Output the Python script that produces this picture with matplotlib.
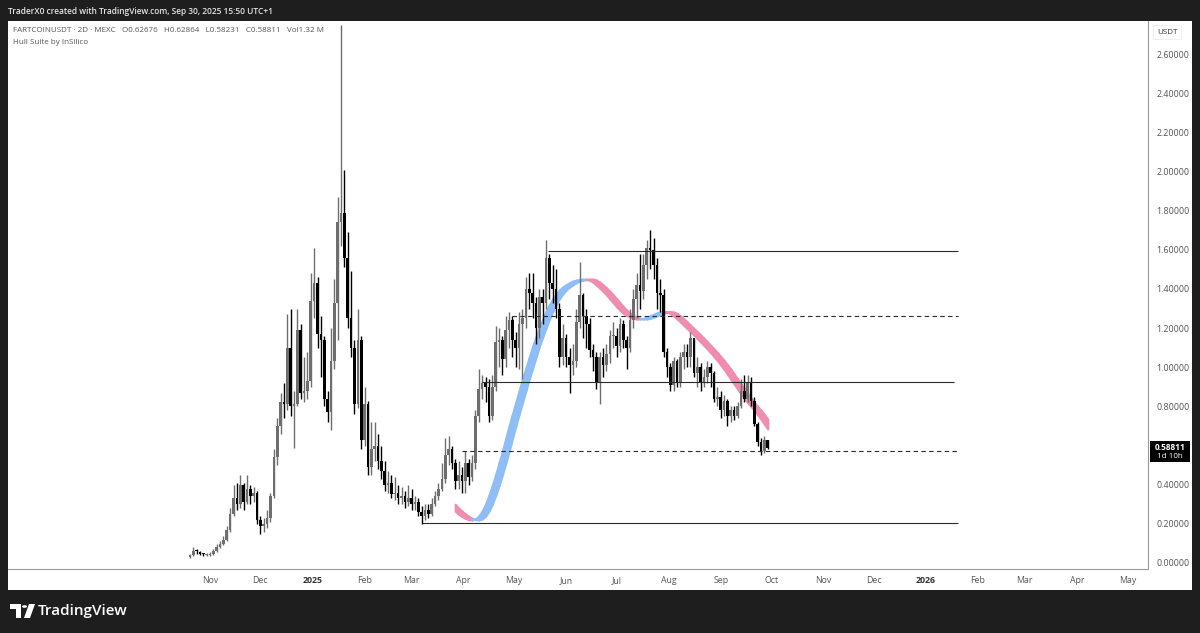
import numpy as np
import pandas as pd
import matplotlib
matplotlib.use("Agg")
import matplotlib.pyplot as plt
import matplotlib.dates as mdates
from matplotlib.patches import Rectangle, Polygon, Circle

plt.rcParams['font.family'] = ['Open Sans', 'DejaVu Sans']

W, H = 1200, 633

# FARTCOINUSDT 2D velas (open = cierre anterior)
first_open = 0.030
close = [0.040, 0.060, 0.055, 0.045, 0.040, 0.042, 0.045, 0.060, 0.080, 0.095,
         0.120, 0.170, 0.250, 0.330, 0.300, 0.400, 0.310, 0.380, 0.340, 0.360,
         0.220, 0.190, 0.200, 0.230, 0.340, 0.540, 0.700, 0.820, 0.810, 1.100,
         0.800, 0.810, 1.190, 0.870, 0.880, 0.930, 1.340, 1.430, 1.170, 1.140,
         0.840, 0.770, 1.030, 1.330, 1.740, 1.790, 1.560, 1.250, 1.100, 0.810,
         1.140, 0.630, 0.810, 0.490, 0.580, 0.600, 0.520, 0.470, 0.400, 0.410,
         0.350, 0.360, 0.330, 0.340, 0.310, 0.330, 0.300, 0.310, 0.260, 0.240,
         0.270, 0.250, 0.300, 0.340, 0.380, 0.430, 0.550, 0.580, 0.510, 0.420,
         0.450, 0.420, 0.510, 0.440, 0.510, 0.750, 0.890, 0.920, 0.900, 0.750,
         0.900, 1.130, 1.140, 1.040, 1.190, 1.240, 1.140, 1.100, 1.220, 1.250,
         1.400, 1.380, 1.330, 1.200, 1.360, 1.330, 1.560, 1.430, 1.400, 1.300,
         1.050, 1.150, 1.050, 1.010, 1.030, 1.230, 1.370, 1.260, 1.220, 1.090,
         1.050, 0.920, 1.050, 1.010, 1.070, 1.160, 1.160, 1.110, 1.220, 1.140,
         1.100, 1.240, 1.350, 1.420, 1.390, 1.520, 1.610, 1.600, 1.520, 1.380,
         1.370, 1.080, 1.000, 0.910, 1.030, 0.920, 1.050, 1.080, 1.050, 1.150,
         0.970, 1.000, 0.920, 0.950, 1.000, 0.970, 0.840, 0.850, 0.780, 0.830,
         0.750, 0.780, 0.750, 0.800, 0.880, 0.840, 0.920, 0.830, 0.710, 0.620,
         0.570, 0.62676, 0.58811]
high = [0.045, 0.080, 0.070, 0.060, 0.050, 0.050, 0.055, 0.070, 0.095, 0.110,
        0.140, 0.190, 0.280, 0.400, 0.410, 0.450, 0.410, 0.450, 0.400, 0.390,
        0.370, 0.240, 0.230, 0.270, 0.360, 0.580, 0.740, 0.870, 0.920, 1.270,
        1.300, 0.880, 1.300, 1.220, 1.050, 1.080, 1.480, 1.610, 1.460, 1.260,
        1.160, 0.880, 1.200, 1.450, 1.870, 2.750, 2.010, 1.690, 1.490, 1.140,
        1.300, 1.160, 0.900, 0.830, 0.720, 0.720, 0.660, 0.600, 0.520, 0.470,
        0.450, 0.440, 0.400, 0.390, 0.370, 0.400, 0.380, 0.340, 0.330, 0.290,
        0.300, 0.300, 0.330, 0.370, 0.410, 0.510, 0.640, 0.650, 0.600, 0.530,
        0.520, 0.490, 0.570, 0.530, 0.550, 0.780, 0.990, 0.960, 0.950, 0.940,
        0.960, 1.210, 1.200, 1.160, 1.260, 1.280, 1.260, 1.180, 1.280, 1.300,
        1.460, 1.480, 1.480, 1.360, 1.400, 1.400, 1.650, 1.580, 1.520, 1.500,
        1.330, 1.220, 1.170, 1.100, 1.120, 1.300, 1.540, 1.380, 1.300, 1.250,
        1.120, 1.080, 1.080, 1.100, 1.120, 1.190, 1.230, 1.200, 1.250, 1.240,
        1.160, 1.300, 1.400, 1.480, 1.580, 1.580, 1.650, 1.700, 1.660, 1.560,
        1.450, 1.400, 1.100, 1.020, 1.050, 1.040, 1.080, 1.120, 1.120, 1.180,
        1.150, 1.050, 1.020, 0.990, 1.030, 1.020, 0.980, 0.900, 0.880, 0.860,
        0.840, 0.800, 0.800, 0.820, 0.940, 0.960, 0.960, 0.950, 0.850, 0.720,
        0.640, 0.650, 0.62864]
low = [0.025, 0.035, 0.045, 0.040, 0.035, 0.035, 0.038, 0.040, 0.055, 0.075,
       0.090, 0.110, 0.160, 0.240, 0.270, 0.280, 0.270, 0.300, 0.300, 0.310,
       0.200, 0.150, 0.160, 0.180, 0.210, 0.330, 0.500, 0.660, 0.740, 0.780,
       0.750, 0.590, 0.800, 0.840, 0.820, 0.840, 0.900, 1.250, 1.100, 0.950,
       0.800, 0.720, 0.680, 0.990, 1.140, 1.620, 1.510, 1.200, 1.050, 0.760,
       0.790, 0.580, 0.600, 0.450, 0.450, 0.520, 0.480, 0.430, 0.370, 0.360,
       0.330, 0.320, 0.300, 0.300, 0.280, 0.290, 0.270, 0.270, 0.240, 0.200,
       0.220, 0.230, 0.240, 0.290, 0.320, 0.370, 0.410, 0.500, 0.480, 0.380,
       0.380, 0.360, 0.360, 0.400, 0.420, 0.480, 0.720, 0.840, 0.820, 0.720,
       0.730, 0.880, 1.000, 0.960, 1.000, 1.100, 1.050, 1.000, 0.990, 0.940,
       1.200, 1.300, 1.250, 1.120, 1.150, 1.220, 1.300, 1.350, 1.330, 1.250,
       1.000, 1.010, 1.000, 0.870, 0.960, 1.000, 1.200, 1.150, 1.100, 1.050,
       0.980, 0.890, 0.810, 0.950, 0.980, 1.020, 1.100, 1.050, 1.080, 1.100,
       0.990, 1.080, 1.200, 1.250, 1.300, 1.350, 1.450, 1.500, 1.450, 1.300,
       1.280, 1.050, 0.950, 0.880, 0.880, 0.900, 0.900, 0.990, 1.000, 1.000,
       0.950, 0.900, 0.880, 0.900, 0.920, 0.900, 0.820, 0.800, 0.740, 0.750,
       0.700, 0.720, 0.730, 0.740, 0.790, 0.820, 0.820, 0.800, 0.700, 0.600,
       0.550, 0.560, 0.58231]
dates = pd.date_range("2024-10-20", periods=len(close), freq="2D")

# Hull Suite, desde la vela 77
hull_start = 77
hull = [0.300, 0.280, 0.265, 0.250, 0.238, 0.228, 0.222, 0.220, 0.225, 0.240,
        0.265, 0.300, 0.345, 0.395, 0.450, 0.510, 0.570, 0.635, 0.700, 0.760,
        0.820, 0.880, 0.940, 0.995, 1.050, 1.105, 1.155, 1.200, 1.245, 1.285,
        1.320, 1.350, 1.375, 1.395, 1.410, 1.422, 1.432, 1.440, 1.445, 1.448,
        1.450, 1.450, 1.445, 1.435, 1.420, 1.405, 1.388, 1.370, 1.350, 1.330,
        1.310, 1.292, 1.277, 1.265, 1.256, 1.250, 1.247, 1.247, 1.250, 1.256,
        1.263, 1.270, 1.277, 1.282, 1.284, 1.282, 1.275, 1.262, 1.248, 1.232,
        1.215, 1.198, 1.182, 1.165, 1.148, 1.130, 1.112, 1.094, 1.075, 1.055,
        1.035, 1.012, 0.990, 0.965, 0.940, 0.915, 0.890, 0.865, 0.842, 0.820,
        0.800, 0.780, 0.758, 0.735, 0.710, 0.685]

# Líneas horizontales dibujadas
level_price = [1.595, 1.263, 0.926, 0.572, 0.206]
level_start = ["2025-05-21", "2025-04-30", "2025-04-12", "2025-03-31", "2025-03-07"]
level_end = ["2026-01-20", "2026-01-20", "2026-01-18", "2026-01-20", "2026-01-20"]
level_dashed = [False, True, False, True, False]

month_ticks = pd.date_range("2024-11-01", "2026-05-01", freq="MS")
month_labels = [str(d.year) if d.month == 1 else d.strftime("%b") for d in month_ticks]
# 0.60000 queda tapado por la etiqueta del último precio
price_ticks = [0.0, 0.2, 0.4, 0.8, 1.0, 1.2, 1.4, 1.6, 1.8, 2.0, 2.2, 2.4, 2.6]

bg = "#1e1e1e"
fig = plt.figure(figsize=(W / 100, H / 100), dpi=100, facecolor=bg)


def fx(x):
    return x / W


def fy(y):
    return 1 - y / H


# panel blanco
fig.patches.append(Rectangle((fx(8), fy(590)), fx(1184), 569 / H, transform=fig.transFigure,
                             facecolor="white", edgecolor="none", zorder=-1))

ax = fig.add_axes([fx(8), fy(569), fx(1140), 548 / H])
ax.set_facecolor("white")

x0 = mdates.date2num(pd.Timestamp("2024-11-01"))
ax.set_xlim(x0 - 202 / 1.68, x0 + 938 / 1.68)
ax.set_ylim((563 - 569) / 195.75, (563 - 21) / 195.75)

# velas
o = np.array([first_open] + close[:-1])
c = np.array(close)
h = np.maximum(np.array(high), np.maximum(o, c))
l = np.minimum(np.array(low), np.minimum(o, c))
xd = mdates.date2num(dates)
up = c >= o
cols = np.where(up, "#6e6e6e", "#000000")
ax.vlines(xd, l, h, colors=cols, linewidth=1.0, zorder=3)
body = np.where(np.abs(c - o) < 0.006, 0.006, c - o)
ax.bar(xd, body, bottom=o, width=1.55, color=cols, edgecolor="none", zorder=3)

# banda Hull
blue, pink = "#8fbdf6", "#f08caf"
hx = xd[hull_start:hull_start + len(hull)]
hv = np.array(hull)
for k in range(3, len(hv)):
    col = blue if hv[k] > hv[k - 2] else pink
    ax.fill_between([hx[k - 1], hx[k]], [hv[k - 1], hv[k]], [hv[k - 3], hv[k - 2]],
                    color=col, linewidth=1.6, edgecolor=col, zorder=2)

# niveles
for p, s, e, d in zip(level_price, level_start, level_end, level_dashed):
    ax.hlines(p, mdates.date2num(pd.Timestamp(s)), mdates.date2num(pd.Timestamp(e)),
              colors="#2a2a2a", linewidth=0.8, linestyles=(0, (4, 3)) if d else "-", zorder=4)

# ejes
for s in ["top", "left"]:
    ax.spines[s].set_visible(False)
for s in ["right", "bottom"]:
    ax.spines[s].set_color("#9a9a9a")
    ax.spines[s].set_linewidth(0.8)
ax.yaxis.tick_right()
ax.set_yticks(price_ticks)
ax.set_yticklabels([f"{v:.5f}" for v in price_ticks])
ax.set_xticks(mdates.date2num(month_ticks))
ax.set_xticklabels(month_labels)
ax.tick_params(axis="y", length=0, pad=6, labelsize=6.4, labelcolor="#555555")
ax.tick_params(axis="x", length=0, pad=5, labelsize=6.3, labelcolor="#555555")
for t in ax.get_xticklabels():
    if t.get_text().isdigit():
        t.set_fontweight("bold")
        t.set_color("#333333")

# leyenda
fig.text(fx(13), fy(31), "FARTCOINUSDT · 2D · MEXC   O0.62676   H0.62864   L0.58231   C0.58811   Vol1.32 M",
         fontsize=5.8, color="#555555", va="center", ha="left")
fig.text(fx(13), fy(43), "Hull Suite by InSilico", fontsize=5.8, color="#555555", va="center", ha="left")

# cabecera
fig.text(fx(8), fy(11), "TraderX0 created with TradingView.com, Sep 30, 2025 15:50 UTC+1",
         fontsize=6.0, color="#e6e6e6", va="center", ha="left", fontweight="semibold")

# USDT
fig.text(fx(1167), fy(32), "USDT", fontsize=5.8, color="#333333", va="center", ha="center",
         bbox=dict(boxstyle="square,pad=0.45", facecolor="white", edgecolor="#eeeeee", linewidth=0.6))

# etiqueta del último precio
fig.patches.append(Rectangle((fx(1150), fy(462)), fx(40), 21 / H, transform=fig.transFigure,
                             facecolor="#000000", edgecolor="none", zorder=5))
fig.text(fx(1170), fy(447), "0.58811", fontsize=6.0, color="white", va="center", ha="center",
         fontweight="bold", zorder=6)
fig.text(fx(1170), fy(457), "1d 10h", fontsize=5.8, color="white", va="center", ha="center", zorder=6)

# logo TradingView
tv = "#ffffff"
fig.patches.append(Polygon([(fx(10), fy(604)), (fx(21), fy(604)), (fx(21), fy(618)), (fx(16), fy(618)),
                            (fx(16), fy(609)), (fx(10), fy(609))], closed=True, transform=fig.transFigure,
                           facecolor=tv, edgecolor="none"))
fig.patches.append(Circle((fx(24.5), fy(606.5)), 2.5 / W, transform=fig.transFigure,
                          facecolor=tv, edgecolor="none"))
fig.patches.append(Polygon([(fx(29), fy(604)), (fx(35), fy(604)), (fx(30), fy(618)), (fx(24), fy(618))],
                           closed=True, transform=fig.transFigure, facecolor=tv, edgecolor="none"))
fig.text(fx(38), fy(611), "TradingView", fontsize=11, color=tv, va="center", ha="left",
         fontweight="semibold")

fig.savefig("out.png", dpi=100, facecolor=bg)
